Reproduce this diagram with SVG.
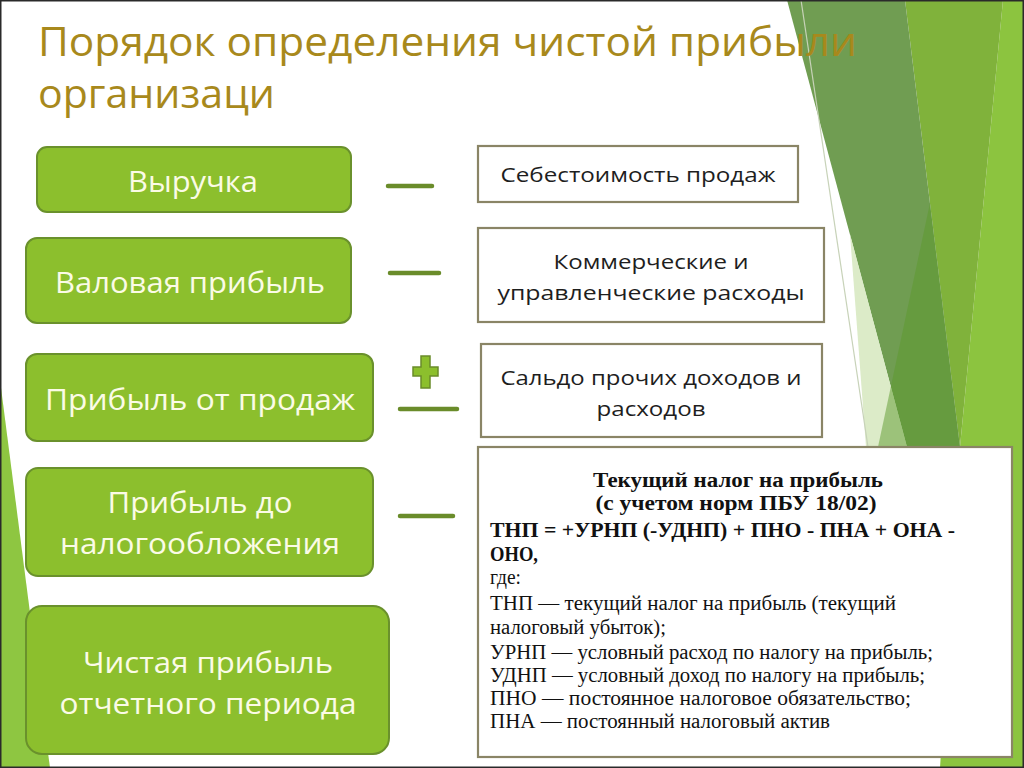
<svg xmlns="http://www.w3.org/2000/svg" width="1024" height="768" viewBox="0 0 1024 768">
<defs>
<style>
.gbox{fill:#8cbf2d;stroke:#6a912c;stroke-width:2}
.gtxt{font-family:"Open Sans","DejaVu Sans",sans-serif;font-size:29px;fill:#fbfbe6;text-anchor:middle}
.wbox{fill:#ffffff;stroke:#8a8566;stroke-width:2.2}
.wtxt{font-family:"Open Sans","DejaVu Sans",sans-serif;font-size:20px;fill:#1e1e1e;text-anchor:middle}
.op{stroke:#6a8c2a;stroke-width:4.5;stroke-linecap:round}
.ser{font-family:"Liberation Serif","DejaVu Serif",serif;font-size:20px;fill:#111}
.serb{font-family:"Liberation Serif","DejaVu Serif",serif;font-size:20px;font-weight:bold;fill:#111}
.title{font-family:"Open Sans","DejaVu Sans",sans-serif;font-size:41px;fill:#a8891c}
</style>
</defs>
<rect width="1024" height="768" fill="#ffffff"/>
<g id="background">
<polygon points="0,380 50,768 0,768" fill="#8ec641"/>
<polygon points="1003,0 1024,0 1024,768 940,768 960,447" fill="#8cc43f"/>
<polygon points="905,0 1003,0 960,447" fill="#80b23b"/>
<polygon points="787,0 905,0 960,447 907,447" fill="#709d52"/>
<polygon points="850,234 907,447 866,447" fill="#dcebc8"/>
<polygon points="930,203 960,447 878,447" fill="#5c9a2c" opacity="0.5"/>
<line x1="801" y1="0" x2="868" y2="447" stroke="#c7d2b8" stroke-width="1.2"/>
</g>
<g id="title">
<text class="title" x="38" y="56" textLength="819" lengthAdjust="spacingAndGlyphs">Порядок определения чистой прибыли</text>
<text class="title" x="38" y="108" textLength="237" lengthAdjust="spacingAndGlyphs">организаци</text>
</g>
<g id="node-vyruchka">
<rect class="gbox" x="37" y="147" width="314" height="65" rx="10"/>
<text class="gtxt" x="193" y="192" textLength="130" lengthAdjust="spacingAndGlyphs">Выручка</text>
</g>
<g id="node-valovaya">
<rect class="gbox" x="26" y="238" width="325" height="85" rx="11"/>
<text class="gtxt" x="190" y="293" textLength="270" lengthAdjust="spacingAndGlyphs">Валовая прибыль</text>
</g>
<g id="node-prodazh">
<rect class="gbox" x="26" y="354" width="347" height="87" rx="11"/>
<text class="gtxt" x="200" y="410" textLength="310" lengthAdjust="spacingAndGlyphs">Прибыль от продаж</text>
</g>
<g id="node-do-nalog">
<rect class="gbox" x="26" y="468" width="347" height="108" rx="12"/>
<text class="gtxt" x="200" y="513" textLength="185" lengthAdjust="spacingAndGlyphs">Прибыль до</text>
<text class="gtxt" x="200" y="554" textLength="280" lengthAdjust="spacingAndGlyphs">налогообложения</text>
</g>
<g id="node-chistaya">
<rect class="gbox" x="26" y="606" width="363" height="148" rx="16"/>
<text class="gtxt" x="208" y="673" textLength="250" lengthAdjust="spacingAndGlyphs">Чистая прибыль</text>
<text class="gtxt" x="208" y="714" textLength="297" lengthAdjust="spacingAndGlyphs">отчетного периода</text>
</g>
<g id="node-sebestoimost">
<rect class="wbox" x="478" y="146" width="320" height="56"/>
<text class="wtxt" x="638" y="182" textLength="275" lengthAdjust="spacingAndGlyphs">Себестоимость продаж</text>
</g>
<g id="node-kommercheskie">
<rect class="wbox" x="478" y="228" width="346" height="94"/>
<text class="wtxt" x="651" y="269" textLength="195" lengthAdjust="spacingAndGlyphs">Коммерческие и</text>
<text class="wtxt" x="651" y="300" textLength="307" lengthAdjust="spacingAndGlyphs">управленческие расходы</text>
</g>
<g id="node-saldo">
<rect class="wbox" x="481" y="344" width="341" height="93"/>
<text class="wtxt" x="651" y="385" textLength="301" lengthAdjust="spacingAndGlyphs">Сальдо прочих доходов и</text>
<text class="wtxt" x="651" y="416" textLength="109" lengthAdjust="spacingAndGlyphs">расходов</text>
</g>
<g id="node-nalog">
<rect class="wbox" x="478" y="447" width="534" height="310"/>
<text class="serb" x="738" y="487" text-anchor="middle" textLength="290" lengthAdjust="spacingAndGlyphs">Текущий налог на прибыль</text>
<text class="serb" x="736" y="510" text-anchor="middle" textLength="281" lengthAdjust="spacingAndGlyphs">(с учетом норм ПБУ 18/02)</text>
<text class="serb" x="490" y="537" font-size="21" textLength="465" lengthAdjust="spacingAndGlyphs">ТНП = +УРНП (-УДНП) + ПНО - ПНА + ОНА -</text>
<text class="serb" x="490" y="561" font-size="21" textLength="48" lengthAdjust="spacingAndGlyphs">ОНО,</text>
<text class="ser" x="490" y="584" textLength="31" lengthAdjust="spacingAndGlyphs">где:</text>
<text class="ser" x="490" y="610" textLength="406" lengthAdjust="spacingAndGlyphs">ТНП — текущий налог на прибыль (текущий</text>
<text class="ser" x="490" y="634" textLength="176" lengthAdjust="spacingAndGlyphs">налоговый убыток);</text>
<text class="ser" x="490" y="659" textLength="443" lengthAdjust="spacingAndGlyphs">УРНП — условный расход по налогу на прибыль;</text>
<text class="ser" x="490" y="682" textLength="435" lengthAdjust="spacingAndGlyphs">УДНП — условный доход по налогу на прибыль;</text>
<text class="ser" x="490" y="705" textLength="421" lengthAdjust="spacingAndGlyphs">ПНО — постоянное налоговое обязательство;</text>
<text class="ser" x="490" y="728" textLength="340" lengthAdjust="spacingAndGlyphs">ПНА — постоянный налоговый актив</text>
</g>
<g id="connectors">
<line class="op" x1="388" y1="186" x2="432" y2="186"/>
<line class="op" x1="390" y1="273" x2="439" y2="273"/>
<path d="M421,356 h9 v11 h8 v9 h-8 v12 h-9 v-12 h-8 v-9 h8 z" fill="#8cbf2d" stroke="#6a8c2a" stroke-width="1.5"/>
<line class="op" x1="400" y1="409" x2="457" y2="409"/>
<line class="op" x1="400" y1="516" x2="453" y2="516"/>
</g>
<rect x="0.75" y="0.75" width="1022.5" height="766.5" fill="none" stroke="#2a2a2a" stroke-width="1.5"/>
</svg>
